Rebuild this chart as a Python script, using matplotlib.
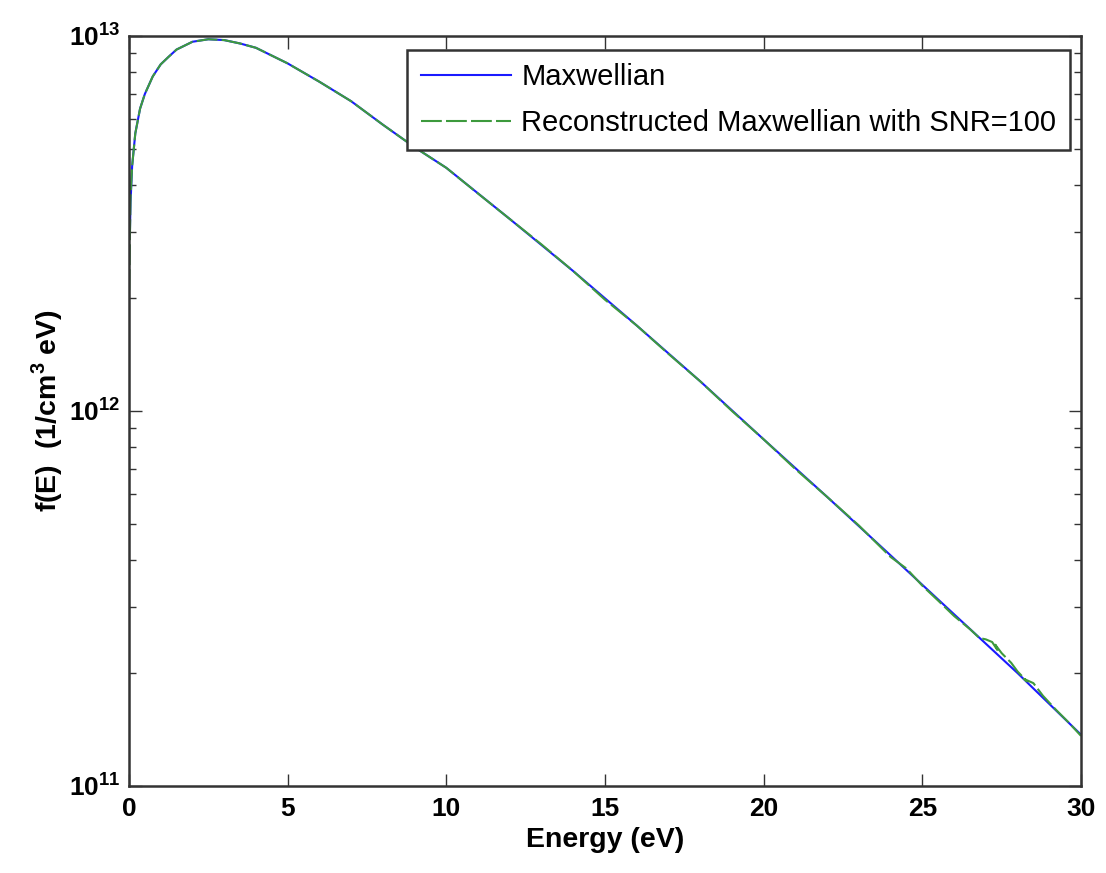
import matplotlib
matplotlib.use("Agg")
import matplotlib.pyplot as plt
from matplotlib.ticker import FixedLocator, LogLocator, NullFormatter, FuncFormatter
import numpy as np

plt.rcParams["font.family"] = ["Liberation Sans", "DejaVu Sans"]
plt.rcParams["mathtext.fontset"] = "custom"
plt.rcParams["mathtext.rm"] = "Liberation Sans:bold"
plt.rcParams["mathtext.bf"] = "Liberation Sans:bold"

# energy grid (eV) and Maxwellian values (1/cm^3 eV)
energy = [0.03, 0.05, 0.1, 0.2, 0.35, 0.5, 0.75, 1.0, 1.25, 1.5, 2.0, 2.5,
          3.0, 3.5, 4.0, 5.0, 6.0, 7.0, 8.0, 9.0, 10.0, 12.0, 14.0, 16.0,
          18.0, 20.0, 22.0, 24.0, 26.0, 28.0, 30.0]
maxwellian = [3.0e12, 3.6e12, 4.5e12, 5.5e12, 6.4e12, 7.0e12, 7.8e12, 8.4e12,
              8.8e12, 9.2e12, 9.65e12, 9.8e12, 9.75e12, 9.55e12, 9.3e12,
              8.45e12, 7.55e12, 6.7e12, 5.8e12, 5.05e12, 4.45e12, 3.25e12,
              2.36e12, 1.69e12, 1.2e12, 8.4e11, 5.9e11, 4.12e11, 2.87e11,
              2.0e11, 1.37e11]

# reconstructed curve (SNR=100), slightly noisy
energy_rec = [0.01, 0.03, 0.05, 0.1, 0.2, 0.35, 0.5, 0.75, 1.0, 1.25, 1.5,
              2.0, 2.5, 3.0, 3.5, 4.0, 5.0, 6.0, 7.0, 8.0, 9.0, 10.0, 11.0,
              12.0, 13.0, 14.0, 15.0, 16.0, 17.0, 18.0, 19.0, 20.0, 21.0,
              22.0, 23.0, 24.0, 24.5, 25.0, 25.5, 26.0, 26.5, 26.8, 27.0,
              27.2, 27.4, 27.3, 27.5, 27.8, 28.0, 28.3, 28.2, 28.5, 28.8,
              29.2, 29.6, 30.0]
reconstructed = [2.1e12, 2.9e12, 3.7e12, 4.5e12, 5.5e12, 6.4e12, 7.0e12,
                 7.8e12, 8.4e12, 8.8e12, 9.2e12, 9.65e12, 9.8e12, 9.75e12,
                 9.55e12, 9.3e12, 8.45e12, 7.55e12, 6.7e12, 5.8e12, 5.05e12,
                 4.45e12, 3.8e12, 3.25e12, 2.78e12, 2.36e12, 1.98e12,
                 1.69e12, 1.42e12, 1.2e12, 1.0e12, 8.4e11, 7.0e11, 5.9e11,
                 4.95e11, 4.08e11, 3.8e11, 3.42e11, 3.12e11, 2.84e11,
                 2.62e11, 2.48e11, 2.46e11, 2.42e11, 2.28e11, 2.38e11,
                 2.26e11, 2.13e11, 2.02e11, 1.9e11, 1.93e11, 1.88e11,
                 1.74e11, 1.6e11, 1.48e11, 1.36e11]

xticks = [0, 5, 10, 15, 20, 25, 30]

fig = plt.figure(figsize=(11.06, 8.73), dpi=100)
ax = fig.add_axes([0.1166, 0.0997, 0.8608, 0.8591])

ax.plot(energy, maxwellian, color="#1a1aff", linewidth=1.5, label="Maxwellian")
ax.plot(energy_rec, reconstructed, color="#3d9a3d", linewidth=1.5,
        linestyle=(0, (10, 2)), label="Reconstructed Maxwellian with SNR=100")

ax.set_yscale("log")
ax.set_xlim(0, 30)
ax.set_ylim(1e11, 1e13)

ax.xaxis.set_major_locator(FixedLocator(xticks))
ax.yaxis.set_major_locator(FixedLocator([1e11, 1e12, 1e13]))
ax.yaxis.set_minor_locator(LogLocator(base=10, subs=np.arange(2, 10)))
ax.yaxis.set_minor_formatter(NullFormatter())
ax.yaxis.set_major_formatter(
    FuncFormatter(lambda v, p: r"$\mathbf{10^{%d}}$" % round(np.log10(v))))

ax.tick_params(which="both", direction="in", top=True, right=True,
               width=1.0, colors="#333333")
ax.tick_params(which="major", length=9, labelsize=19, labelcolor="black")
ax.tick_params(which="minor", length=5)
ax.tick_params(axis="x", pad=8)
ax.tick_params(axis="y", pad=6)
for lab in ax.get_xticklabels():
    lab.set_fontweight("bold")

for s in ax.spines.values():
    s.set_linewidth(1.8)
    s.set_color("#333333")

ax.set_xlabel("Energy (eV)", fontsize=20.5, fontweight="bold", labelpad=4)
ax.set_ylabel(r"f(E)  (1/cm$^{3}$ eV)", fontsize=20.5, fontweight="bold",
              labelpad=3)

leg = ax.legend(loc="upper right", bbox_to_anchor=(0.988, 0.981),
                borderaxespad=0, fontsize=21, fancybox=False,
                edgecolor="#333333", framealpha=1, handlelength=3.1,
                handletextpad=0.36, borderpad=0.45, labelspacing=0.6)
leg.get_frame().set_linewidth(1.8)

fig.savefig("out.png", dpi=100)
